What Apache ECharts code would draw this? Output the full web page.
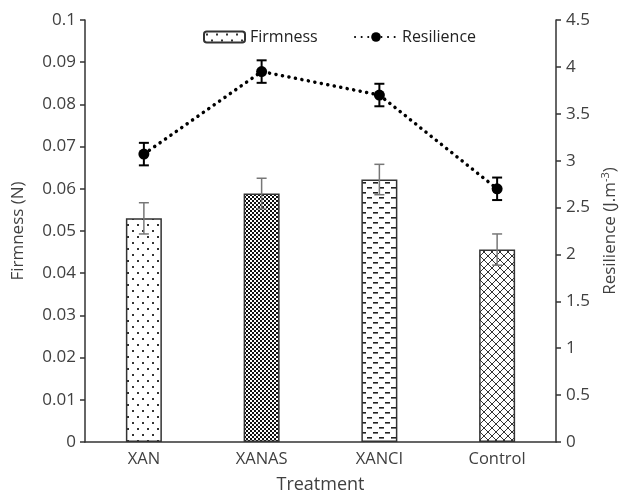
<!DOCTYPE html>
<html><head><meta charset="utf-8">
<script src="https://cdn.jsdelivr.net/npm/echarts@6/dist/echarts.min.js"></script>
<style>html,body{margin:0;padding:0;background:#fff}#c{width:632px;height:494px}</style>
</head><body><div id="c"></div>
<script>
var categories = ['XAN', 'XANAS', 'XANCI', 'Control'];
var firmness = [0.053, 0.0589, 0.0622, 0.0456];
var firmnessErr = [0.0037, 0.0036, 0.0036, 0.0037];
var resilience = [3.07, 3.95, 3.70, 2.70];
var resilienceErr = [0.12, 0.12, 0.12, 0.12];

function tile(w, h, draw) {
  var c = document.createElement('canvas'); c.width = w; c.height = h;
  var g = c.getContext('2d'); g.fillStyle = '#fff'; g.fillRect(0, 0, w, h);
  draw(g); return {image: c, repeat: 'repeat'};
}
var patDots = tile(10, 12, function (g) {
  g.fillStyle = '#333'; g.fillRect(2, 2, 2, 2); g.fillRect(7, 8, 2, 2);
});
var patCheck = tile(4, 4, function (g) {
  g.fillStyle = '#111'; g.fillRect(0, 0, 2, 2); g.fillRect(2, 2, 2, 2);
});
var patDash = tile(12, 10, function (g) {
  g.fillStyle = '#222'; g.fillRect(1, 2, 5, 1.6); g.fillRect(7, 7, 5, 1.6);
});
var patCross = tile(8, 8, function (g) {
  g.strokeStyle = '#333'; g.lineWidth = 1;
  g.beginPath(); g.moveTo(0, 0); g.lineTo(8, 8); g.moveTo(0, 8); g.lineTo(8, 0); g.stroke();
});
var patterns = [patDots, patCheck, patDash, patCross];

var font = '"Open Sans", Lato, sans-serif';
var txt = '#404040';

function errItem(color, lw, cap) {
  return function (params, api) {
    var x = api.value(0), lo = api.value(1), hi = api.value(2);
    var p1 = api.coord([x, lo]), p2 = api.coord([x, hi]);
    var st = {stroke: color, lineWidth: lw};
    return {type: 'group', children: [
      {type: 'line', shape: {x1: p1[0], y1: p1[1], x2: p2[0], y2: p2[1]}, style: st},
      {type: 'line', shape: {x1: p1[0] - cap, y1: p1[1], x2: p1[0] + cap, y2: p1[1]}, style: st},
      {type: 'line', shape: {x1: p2[0] - cap, y1: p2[1], x2: p2[0] + cap, y2: p2[1]}, style: st}
    ]};
  };
}

var chart = echarts.init(document.getElementById('c'), null, {renderer: 'canvas'});
chart.setOption({
  animation: false,
  textStyle: {fontFamily: font},
  grid: {left: 85, right: 76, top: 20, bottom: 52, containLabel: false, outerBoundsMode: 'none'},
  legend: [
    {data: ['Firmness'], left: 203, top: 29, padding: 0, itemWidth: 41, itemHeight: 11, itemGap: 6,
     textStyle: {fontSize: 16, color: '#222', fontFamily: font}},
    {data: ['Resilience'], left: 354, top: 29, padding: 0, itemWidth: 42, itemHeight: 12,
     textStyle: {fontSize: 16, color: '#222', fontFamily: font}}
  ],
  xAxis: {
    type: 'category', data: categories,
    axisLine: {lineStyle: {color: '#333', width: 1.5}},
    axisTick: {show: false},
    axisLabel: {fontSize: 16.5, color: txt, margin: 9, fontFamily: font},
    name: 'Treatment', nameLocation: 'middle', nameGap: 34,
    nameTextStyle: {fontSize: 18, color: txt, fontFamily: font}
  },
  yAxis: [
    {type: 'value', min: 0, max: 0.1, interval: 0.01,
     axisLine: {show: true, lineStyle: {color: '#333', width: 1.5}},
     axisTick: {show: true, length: 5, lineStyle: {color: '#333', width: 1.5}},
     splitLine: {show: false},
     axisLabel: {fontSize: 17, color: txt, margin: 9, fontFamily: font},
     name: 'Firmness (N)', nameLocation: 'middle', nameGap: 58, nameRotate: 90,
     nameTextStyle: {fontSize: 17, color: txt, fontFamily: font}},
    {type: 'value', min: 0, max: 4.5, interval: 0.5, position: 'right',
     axisLine: {show: true, lineStyle: {color: '#333', width: 1.5}},
     axisTick: {show: true, length: 5, lineStyle: {color: '#333', width: 1.5}},
     splitLine: {show: false},
     axisLabel: {fontSize: 17, color: txt, margin: 10, fontFamily: font},
     name: 'Resilience (J.m{sup|-3})', nameLocation: 'middle', nameGap: 38, nameRotate: 90,
     nameTextStyle: {fontSize: 17, color: txt, fontFamily: font,
       rich: {sup: {fontSize: 11, color: txt, fontFamily: font, verticalAlign: 'top', padding: [0, 0, 8, 0]}}}}
  ],
  series: [
    {name: 'Firmness', type: 'bar', yAxisIndex: 0, barWidth: 36,
     itemStyle: {color: patDots, borderColor: '#333', borderWidth: 1.5},
     data: firmness.map(function (v, i) {
       return {value: v, itemStyle: {color: patterns[i], borderColor: '#333', borderWidth: 1.5}};
     }), z: 2},
    {name: 'FirmErr', type: 'custom', yAxisIndex: 0,
     renderItem: errItem('#777', 1.5, 5),
     encode: {x: 0, y: [1, 2]},
     data: firmness.map(function (v, i) { return [i, v - firmnessErr[i], v + firmnessErr[i]]; }), z: 3},
    {name: 'Resilience', type: 'line', yAxisIndex: 1, data: resilience,
     symbol: 'circle', symbolSize: 11,
     itemStyle: {color: '#000'},
     lineStyle: {color: '#000', width: 3.5, type: [0.1, 6.5], cap: 'round'}, z: 5},
    {name: 'ResErr', type: 'custom', yAxisIndex: 1,
     renderItem: errItem('#000', 2, 5),
     encode: {x: 0, y: [1, 2]},
     data: resilience.map(function (v, i) { return [i, v - resilienceErr[i], v + resilienceErr[i]]; }), z: 6}
  ]
});
</script></body></html>
